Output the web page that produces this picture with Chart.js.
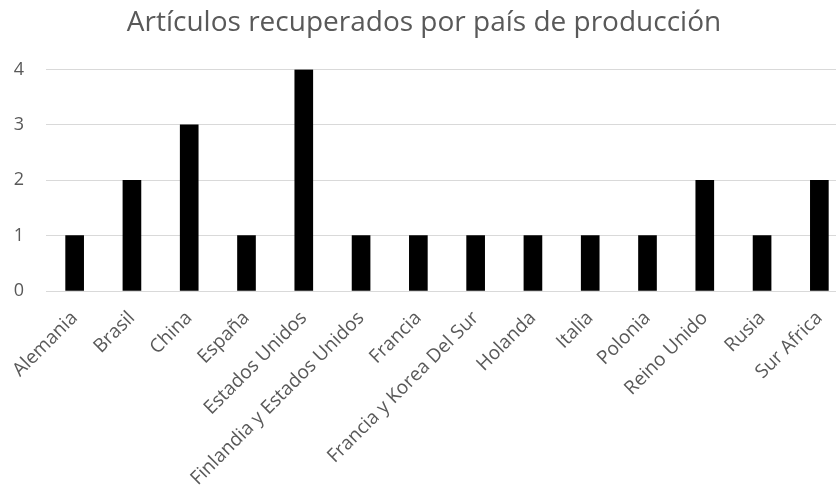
<!DOCTYPE html>
<html lang="es">
<head>
    <meta charset="UTF-8">
    <title>Artículos recuperados</title>
    <script src="https://cdn.jsdelivr.net/npm/chart.js"></script>
    <style>
        html, body {
            margin: 0;
            padding: 0;
            background: white;
            overflow: hidden;
        }
        .wrap {
            width: 848px;
            height: 487px;
        }
    </style>
</head>
<body>
    <div class="wrap"><canvas id="chart" width="848" height="487"></canvas></div>

    <script>
        const paises = ['Alemania', 'Brasil', 'China', 'España', 'Estados Unidos',
            'Finlandia y Estados Unidos', 'Francia', 'Francia y Korea Del Sur', 'Holanda',
            'Italia', 'Polonia', 'Reino Unido', 'Rusia', 'Sur Africa'];
        const articulos = [1, 2, 3, 1, 4, 1, 1, 1, 1, 1, 1, 2, 1, 2];
        const yTicks = [0, 1, 2, 3, 4];

        const fontFam = "'Open Sans', 'Liberation Sans', sans-serif";

        new Chart(document.getElementById('chart'), {
            type: 'bar',
            data: {
                labels: paises,
                datasets: [{
                    data: articulos,
                    backgroundColor: '#000000',
                    barThickness: 18
                }]
            },
            options: {
                responsive: false,
                animation: false,
                layout: { padding: { left: 0, right: 0, top: 0, bottom: 0 } },
                plugins: {
                    legend: { display: false },
                    tooltip: { enabled: false },
                    title: {
                        display: true,
                        text: 'Artículos recuperados por país de producción',
                        color: '#595959',
                        font: { family: fontFam, size: 28, weight: 'normal' },
                        padding: { top: 6, bottom: 30 }
                    }
                },
                scales: {
                    y: {
                        min: 0,
                        max: 4,
                        afterBuildTicks: axis => { axis.ticks = yTicks.map(v => ({ value: v })); },
                        afterFit: axis => { axis.width = 46; },
                        border: { display: false },
                        grid: { color: '#d9d9d9', lineWidth: 1, drawTicks: false },
                        ticks: {
                            color: '#595959',
                            padding: 22,
                            font: { family: fontFam, size: 18 }
                        }
                    },
                    x: {
                        afterFit: axis => { axis.height = 196; },
                        border: { color: '#d9d9d9' },
                        grid: { display: false },
                        ticks: {
                            color: '#595959',
                            minRotation: 45,
                            maxRotation: 45,
                            autoSkip: false,
                            padding: 8,
                            font: { family: fontFam, size: 19 }
                        }
                    }
                }
            }
        });
    </script>
</body>
</html>
